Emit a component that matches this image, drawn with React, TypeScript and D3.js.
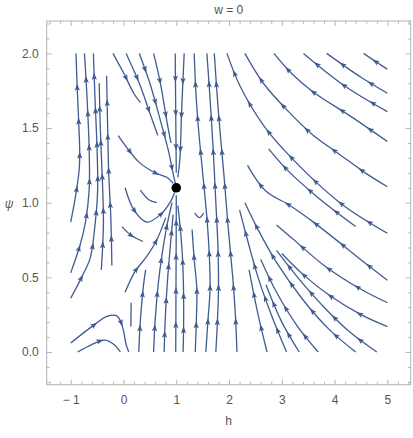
import React, { useEffect, useRef } from "react";
import * as d3 from "d3";

type Pt = [number, number];

const xMajor = [-1, 0, 1, 2, 3, 4, 5];
const yMajor = [0, 0.5, 1, 1.5, 2];
const title = "w = 0";
const xLabel = "h";
const yLabel = "ψ";
const fixedPoints: Pt[] = [[1, 1.1]];

// streamlines, in (h, ψ), ordered along the flow
const leftStreams: Pt[][] = [
  [[-1.0, 0.87], [-0.92, 1.02], [-0.84, 1.22], [-0.83, 1.35], [-0.85, 1.55], [-0.88, 1.8], [-0.9, 2.0]],
  [[-1.0, 0.53], [-0.82, 0.72], [-0.72, 0.87], [-0.65, 1.09], [-0.65, 1.35], [-0.69, 1.7], [-0.74, 2.0]],
  [[-1.0, 0.36], [-0.78, 0.51], [-0.63, 0.63], [-0.54, 0.85], [-0.49, 1.08], [-0.5, 1.35], [-0.54, 1.7], [-0.57, 2.0]],
  [[-0.42, 0.55], [-0.38, 0.86], [-0.4, 1.15], [-0.44, 1.5], [-0.46, 1.8]],
  [[-0.22, 0.58], [-0.24, 0.9], [-0.28, 1.2], [-0.3, 1.5], [-0.32, 1.85]],
  [[-1.0, 0.06], [-0.6, 0.17], [-0.3, 0.24], [-0.12, 0.24], [-0.02, 0.17], [0.05, 0.05], [0.1, 0.0]],
  [[-0.87, 0.0], [-0.6, 0.05], [-0.35, 0.08], [-0.18, 0.05], [-0.06, 0.0]],
];
const topStreams: Pt[][] = [
  [[-0.2, 2.0], [0.0, 1.87], [0.2, 1.73], [0.32, 1.67]],
  [[0.05, 2.0], [0.3, 1.8], [0.5, 1.6], [0.65, 1.45]],
  [[0.3, 2.0], [0.5, 1.8], [0.7, 1.55], [0.85, 1.35], [0.95, 1.18], [0.99, 1.12]],
  [[0.57, 2.0], [0.7, 1.8], [0.82, 1.55], [0.9, 1.4]],
  [[0.98, 2.0], [0.99, 1.6], [1.0, 1.2]],
  [[1.15, 2.0], [1.1, 1.6], [1.07, 1.3], [1.03, 1.17]],
  [[-0.1, 1.45], [0.3, 1.27], [0.6, 1.2], [0.82, 1.17], [0.94, 1.13]],
  [[0.03, 1.1], [0.2, 0.95], [0.44, 0.87], [0.7, 0.92], [0.88, 1.0], [0.97, 1.07]],
  [[0.32, 1.085], [0.48, 1.02], [0.63, 1.0]],
  [[-0.03, 0.84], [0.15, 0.78], [0.37, 0.74]],
  [[1.35, 0.93], [1.44, 0.9], [1.52, 0.93]],
];
const bottomStreams: Pt[][] = [
  [[0.14, 0.17], [0.145, 0.33]],
  [[0.03, 0.4], [0.22, 0.54], [0.44, 0.64], [0.63, 0.75], [0.8, 0.9]],
  [[0.29, 0.0], [0.32, 0.21], [0.38, 0.45], [0.42, 0.55]],
  [[0.57, 0.0], [0.6, 0.21], [0.66, 0.46], [0.73, 0.65], [0.82, 0.84], [0.92, 1.0]],
  [[0.77, 0.0], [0.79, 0.21], [0.83, 0.46], [0.89, 0.72], [0.94, 0.92]],
  [[0.99, 0.0], [0.995, 0.46], [1.0, 0.92], [1.0, 1.05]],
  [[1.13, 0.0], [1.14, 0.21], [1.135, 0.46], [1.11, 0.68], [1.07, 0.85], [1.03, 0.98]],
  [[1.36, 0.0], [1.38, 0.21], [1.39, 0.42], [1.34, 0.62], [1.3, 0.82]],
  [[1.56, 0.0], [1.6, 0.21], [1.64, 0.42], [1.63, 0.62], [1.58, 0.9], [1.5, 1.2], [1.42, 1.5], [1.37, 1.75], [1.34, 2.0]],
  [[1.75, 0.0], [1.78, 0.21], [1.8, 0.42], [1.79, 0.7], [1.75, 1.0], [1.7, 1.35], [1.64, 1.7], [1.58, 2.0]],
  [[2.15, 0.0], [2.12, 0.25], [2.07, 0.5], [1.98, 0.85], [1.9, 1.2], [1.8, 1.6], [1.72, 2.0]],
];
const rightStreams: Pt[][] = [
  [[5, 1.895], [4.8, 1.94], [4.55, 2.0]],
  [[5, 1.733], [4.5, 1.84], [3.85, 2.0]],
  [[5, 1.61], [4.2, 1.78], [3.41, 2.0]],
  [[5, 1.41], [4.3, 1.58], [3.6, 1.74], [3.2, 1.86], [2.85, 2.0]],
  [[5, 1.107], [4.58, 1.2], [4.07, 1.33], [3.6, 1.45], [3.1, 1.62], [2.65, 1.8], [2.3, 2.0]],
  [[5, 0.795], [4.1, 1.0], [3.13, 1.32], [2.65, 1.52], [2.21, 1.78], [1.96, 2.0]],
  [[4.4, 0.84], [3.7, 1.03], [3.1, 1.22], [2.75, 1.36]],
  [[5, 0.48], [4.6, 0.59], [3.6, 0.87], [3.16, 0.98], [2.69, 1.08], [2.35, 1.25]],
  [[5, 0.33], [4.5, 0.42], [3.8, 0.58], [3.2, 0.76], [2.9, 0.85]],
  [[5, 0.17], [4.5, 0.25], [3.9, 0.38], [3.4, 0.52], [3.0, 0.66]],
  [[4.8, 0], [4.3, 0.13], [3.8, 0.3], [3.3, 0.5], [2.9, 0.68]],
  [[4.4, 0], [3.9, 0.15], [3.4, 0.35], [2.9, 0.6], [2.55, 0.82], [2.3, 1.0]],
  [[3.69, 0], [3.3, 0.17], [2.9, 0.4], [2.6, 0.62]],
  [[3.33, 0], [3.0, 0.2], [2.7, 0.45]],
  [[3.09, 0], [2.8, 0.25], [2.55, 0.5], [2.35, 0.75], [2.2, 0.95]],
  [[2.72, 0], [2.55, 0.25], [2.38, 0.55]],
];

const streams: Pt[][] = [...leftStreams, ...topStreams, ...bottomStreams, ...rightStreams];

const W = 413;
const H = 438;
const LINE = "#3f5c91";
const GRAY = "#555555";
const FRAME = "#b4b4b4";

export default function App() {
  const ref = useRef<SVGSVGElement>(null);
  useEffect(() => {
    const svg = d3.select(ref.current);
    svg.selectAll("*").remove();
    const x = d3.scaleLinear().domain([-1.455, 5.442]).range([46.7, 410.7]);
    const y = d3.scaleLinear().domain([-0.219, 2.217]).range([384.7, 21]);
    const [x0, x1] = x.range();
    const [y0, y1] = y.range();

    const xMinor = d3.range(-1.4, 5.41, 0.2).map((v) => +v.toFixed(2)).filter((v) => Math.abs(v - Math.round(v)) > 1e-6);
    const yMinor = d3.range(-0.2, 2.21, 0.1).map((v) => +v.toFixed(2)).filter((v) => Math.abs(v * 2 - Math.round(v * 2)) > 1e-6);
    const fmtX = (d: number) => (d < 0 ? "\u2212 " + Math.abs(d) : String(d));
    const fmtY = d3.format(".1f");

    const axes = svg.append("g").attr("font-family", "Liberation Sans, Arial, sans-serif").attr("font-size", 12);

    const style = (g: any) => {
      g.select(".domain").remove();
      g.selectAll("line").attr("stroke", FRAME);
      g.selectAll("text").attr("fill", GRAY).attr("font-family", "Liberation Sans, Arial, sans-serif").attr("font-size", 12);
    };

    axes.append("g").attr("transform", `translate(0,${y0})`)
      .call(d3.axisBottom(x).tickValues(xMajor).tickSize(-5).tickPadding(11).tickFormat(fmtX as any)).call(style);
    axes.append("g").attr("transform", `translate(0,${y0})`)
      .call(d3.axisBottom(x).tickValues(xMinor).tickSize(-2.8).tickFormat(() => "")).call(style);
    axes.append("g").attr("transform", `translate(0,${y1})`)
      .call(d3.axisTop(x).tickValues(xMajor).tickSize(-5).tickFormat(() => "")).call(style);
    axes.append("g").attr("transform", `translate(0,${y1})`)
      .call(d3.axisTop(x).tickValues(xMinor).tickSize(-2.8).tickFormat(() => "")).call(style);
    axes.append("g").attr("transform", `translate(${x0},0)`)
      .call(d3.axisLeft(y).tickValues(yMajor).tickSize(-5).tickPadding(8).tickFormat(fmtY as any)).call(style);
    axes.append("g").attr("transform", `translate(${x0},0)`)
      .call(d3.axisLeft(y).tickValues(yMinor).tickSize(-2.8).tickFormat(() => "")).call(style);
    axes.append("g").attr("transform", `translate(${x1},0)`)
      .call(d3.axisRight(y).tickValues(yMajor).tickSize(-5).tickFormat(() => "")).call(style);
    axes.append("g").attr("transform", `translate(${x1},0)`)
      .call(d3.axisRight(y).tickValues(yMinor).tickSize(-2.8).tickFormat(() => "")).call(style);

    svg.append("rect").attr("x", x0).attr("y", y1).attr("width", x1 - x0).attr("height", y0 - y1)
      .attr("fill", "none").attr("stroke", FRAME).attr("stroke-width", 1);

    const lab = svg.append("g").attr("font-family", "Liberation Sans, Arial, sans-serif").attr("font-size", 12).attr("fill", GRAY);
    lab.append("text").attr("x", (x0 + x1) / 2).attr("y", 14).attr("text-anchor", "middle").text(title);
    lab.append("text").attr("x", (x0 + x1) / 2).attr("y", 425).attr("text-anchor", "middle").text(xLabel);
    lab.append("text").attr("x", 9).attr("y", 208).attr("text-anchor", "middle").attr("font-style", "italic").text(yLabel);

    const line = d3.line<Pt>().x((d) => x(d[0])).y((d) => y(d[1])).curve(d3.curveCatmullRom.alpha(0.5));
    const g = svg.append("g");
    streams.forEach((s) => {
      const p = g.append("path").attr("d", line(s)).attr("fill", "none").attr("stroke", LINE).attr("stroke-width", 1.3);
      const node = p.node() as SVGPathElement;
      const L = node.getTotalLength();
      if (L < 26) return;
      const spacing = 34;
      const n = Math.max(1, Math.floor(L / spacing));
      const start = (L - (n - 1) * spacing) / 2;
      for (let i = 0; i < n; i++) {
        const at = start + i * spacing;
        if (at < 4 || at > L) continue;
        const a = node.getPointAtLength(Math.max(0, at - 2));
        const b = node.getPointAtLength(Math.min(L, at + 2));
        const ang = (Math.atan2(b.y - a.y, b.x - a.x) * 180) / Math.PI;
        const c = node.getPointAtLength(at);
        g.append("path").attr("d", "M3.5,0 L-3.5,-2.6 L-2.2,0 L-3.5,2.6 Z")
          .attr("fill", LINE).attr("transform", `translate(${c.x},${c.y}) rotate(${ang})`);
      }
    });

    svg.append("g").selectAll("circle").data(fixedPoints).join("circle")
      .attr("cx", (d) => x(d[0])).attr("cy", (d) => y(d[1])).attr("r", 4.8).attr("fill", "#000");
  }, []);
  return <svg ref={ref} width={W} height={H} style={{ position: "absolute", left: 0, top: 0, background: "#fff" }} />;
}
